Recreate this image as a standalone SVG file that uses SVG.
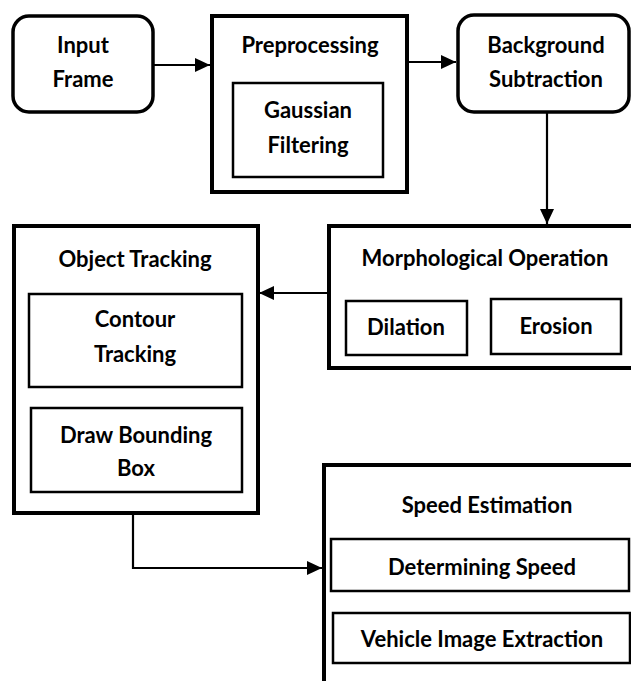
<svg xmlns="http://www.w3.org/2000/svg" width="631" height="681" viewBox="0 0 631 681">
<style>
text{font-family:Lato,"Open Sans","Liberation Sans",sans-serif;font-weight:bold;font-size:22px;fill:#000;text-anchor:middle}
.outer{fill:#fff;stroke:#000;stroke-width:4}
.round{fill:#fff;stroke:#000;stroke-width:3.5}
.inner{fill:#fff;stroke:#000;stroke-width:2.5}
.conn{fill:none;stroke:#000;stroke-width:2.2}
</style>
<defs>
<marker id="arr" markerUnits="userSpaceOnUse" markerWidth="15" markerHeight="14" refX="15" refY="7" orient="auto">
<path d="M0,0 L15,7 L0,14 z" fill="#000"/>
</marker>
</defs>
<rect width="631" height="681" fill="#fff"/>
<g id="connectors">
<line class="conn" x1="154" y1="65" x2="210" y2="65" marker-end="url(#arr)"/>
<line class="conn" x1="408" y1="62" x2="456" y2="62" marker-end="url(#arr)"/>
<line class="conn" x1="547" y1="113" x2="547" y2="224" marker-end="url(#arr)"/>
<line class="conn" x1="328" y1="293" x2="259" y2="293" marker-end="url(#arr)"/>
<path class="conn" d="M133,513 V568 H322" marker-end="url(#arr)"/>
</g>
<g id="input-frame">
<rect class="round" x="13" y="16" width="140" height="96" rx="16"/>
<text x="83" y="53">Input</text>
<text x="83" y="87">Frame</text>
</g>
<g id="preprocessing">
<rect class="outer" x="212" y="16" width="195" height="176"/>
<text x="310" y="53">Preprocessing</text>
<g id="gaussian-filtering">
<rect class="inner" x="233" y="83" width="150" height="94"/>
<text x="308" y="118">Gaussian</text>
<text x="308" y="153">Filtering</text>
</g>
</g>
<g id="background-subtraction">
<rect class="round" x="458" y="15" width="171" height="97" rx="16"/>
<text x="546" y="53">Background</text>
<text x="546" y="87">Subtraction</text>
</g>
<g id="morphological-operation">
<rect class="outer" x="329" y="226" width="320" height="142"/>
<text x="485" y="266">Morphological Operation</text>
<g id="dilation">
<rect class="inner" x="346" y="301" width="121" height="54"/>
<text x="406" y="335">Dilation</text>
</g>
<g id="erosion">
<rect class="inner" x="491" y="299" width="130" height="55"/>
<text x="556" y="334">Erosion</text>
</g>
</g>
<g id="object-tracking">
<rect class="outer" x="14" y="226" width="244" height="287"/>
<text x="135" y="267">Object Tracking</text>
<g id="contour-tracking">
<rect class="inner" x="29" y="294" width="213" height="93"/>
<text x="135" y="327">Contour</text>
<text x="135" y="362">Tracking</text>
</g>
<g id="draw-bounding-box">
<rect class="inner" x="31" y="408" width="211" height="84"/>
<text x="136" y="443">Draw Bounding</text>
<text x="136" y="476">Box</text>
</g>
</g>
<g id="speed-estimation">
<rect class="outer" x="324" y="465" width="330" height="240"/>
<text x="487" y="513">Speed Estimation</text>
<g id="determining-speed">
<rect class="inner" x="331" y="539" width="298" height="52"/>
<text x="482" y="575">Determining Speed</text>
</g>
<g id="vehicle-image-extraction">
<rect class="inner" x="333" y="613" width="297" height="50"/>
<text x="482" y="647">Vehicle Image Extraction</text>
</g>
</g>
</svg>
